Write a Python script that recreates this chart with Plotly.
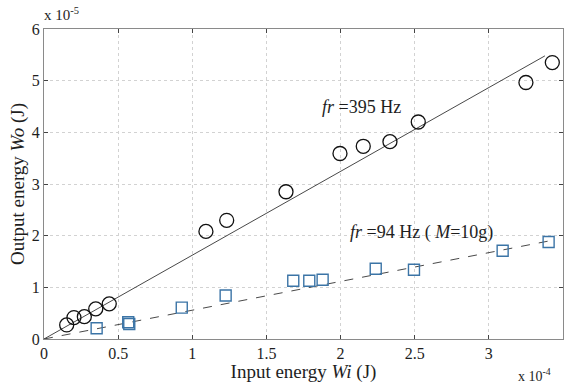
import plotly.graph_objects as go

# Data (x in 1e-4 J, y in 1e-5 J)
circ_x = [0.153, 0.202, 0.272, 0.349, 0.440, 1.092, 1.232, 1.632, 1.996, 2.153, 2.333, 2.524, 3.25, 3.428]
circ_y = [0.272, 0.414, 0.433, 0.583, 0.680, 2.083, 2.297, 2.85, 3.59, 3.73, 3.82, 4.20, 4.965, 5.35]
sq_x = [0.355, 0.568, 0.575, 0.929, 1.225, 1.681, 1.789, 1.879, 2.237, 2.495, 3.093, 3.403]
sq_y = [0.208, 0.324, 0.291, 0.608, 0.841, 1.126, 1.126, 1.146, 1.359, 1.34, 1.709, 1.878]
fit1_x = [0, 3.378]
fit1_y = [0, 5.48]
fit2_x = [0, 3.446]
fit2_y = [0, 1.92]
x_ticks = [0, 0.5, 1, 1.5, 2, 2.5, 3, 3.5]
x_tick_labels = ["0", "0.5", "1", "1.5", "2", "2.5", "3", "3.5"]
y_ticks = [0, 1, 2, 3, 4, 5, 6]
y_tick_labels = ["0", "1", "2", "3", "4", "5", "6"]

FONT = "Liberation Serif, Times New Roman, serif"
BLUE = "#3b74a6"
TXT = "#1e1e1e"

fig = go.Figure()
fig.add_trace(go.Scatter(x=fit1_x, y=fit1_y, mode="lines",
                         line=dict(color="#333333", width=0.9), showlegend=False))
fig.add_trace(go.Scatter(x=fit2_x, y=fit2_y, mode="lines",
                         line=dict(color="#333333", width=0.9, dash="dash"), showlegend=False))
fig.add_trace(go.Scatter(x=circ_x, y=circ_y, mode="markers",
                         marker=dict(symbol="circle-open", size=14, color="#111111",
                                     line=dict(width=1.3, color="#111111")),
                         showlegend=False))
fig.add_trace(go.Scatter(x=sq_x, y=sq_y, mode="markers",
                         marker=dict(symbol="square-open", size=11, color=BLUE,
                                     line=dict(width=1.4, color=BLUE)),
                         showlegend=False))

axis_common = dict(showline=True, mirror="ticks", linecolor="#8a8a8a", linewidth=1,
                   ticks="inside", ticklen=4, tickcolor="#444444",
                   showgrid=True, gridcolor="#d2d2d2", griddash="dot", gridwidth=1,
                   zeroline=False, tickfont=dict(family=FONT, size=16, color=TXT))

fig.update_xaxes(range=[0, 3.5], tickvals=x_ticks, ticktext=x_tick_labels,
                 title=dict(text="Input energy <i>Wi</i> (J)",
                            font=dict(family=FONT, size=19, color=TXT), standoff=1),
                 **axis_common)
fig.update_yaxes(range=[0, 6], tickvals=y_ticks, ticktext=y_tick_labels,
                 title=dict(text="Output energy <i>Wo</i> (J)",
                            font=dict(family=FONT, size=19, color=TXT), standoff=2),
                 **axis_common)

fig.add_annotation(x=1.86, y=4.49, xref="x", yref="y", xanchor="left", yanchor="middle",
                   text="<i>fr</i> =395 Hz", showarrow=False,
                   font=dict(family=FONT, size=18, color=TXT))
fig.add_annotation(x=2.05, y=2.06, xref="x", yref="y", xanchor="left", yanchor="middle",
                   text="<i>fr</i> =94 Hz ( <i>M</i>=10g)", showarrow=False,
                   font=dict(family=FONT, size=18, color=TXT))
fig.add_annotation(x=0, y=1, xref="paper", yref="paper", xanchor="left", yanchor="bottom",
                   xshift=-2, yshift=4,
                   text="x 10<sup>-5</sup>", showarrow=False,
                   font=dict(family=FONT, size=15, color=TXT))
fig.add_annotation(x=1, y=0, xref="paper", yref="paper", xanchor="right", yanchor="top",
                   yshift=-25, xshift=-10,
                   text="x 10<sup>-4</sup>", showarrow=False,
                   font=dict(family=FONT, size=14, color=TXT))

fig.update_layout(width=570, height=383, margin=dict(l=44, r=7, t=29, b=44),
                  paper_bgcolor="white", plot_bgcolor="white")

fig.write_html("out.html")
